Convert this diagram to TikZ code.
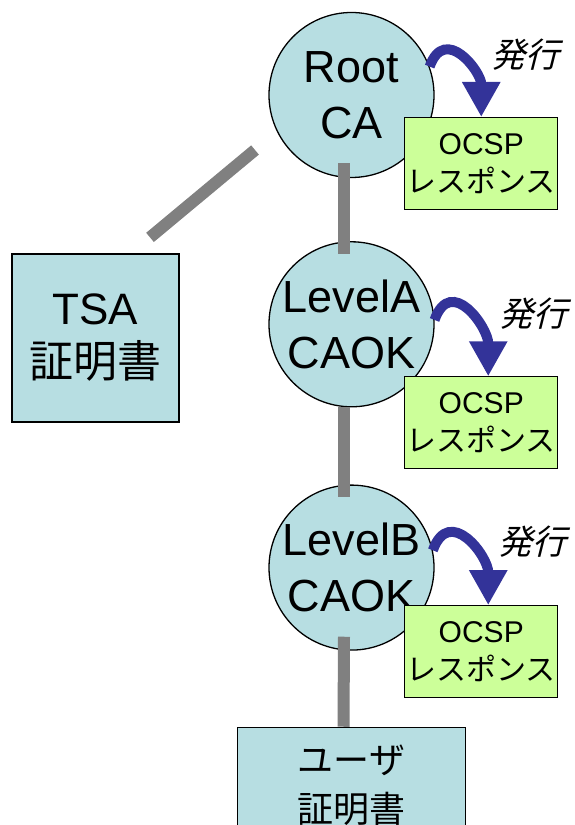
\documentclass[tikz,border=0pt]{standalone}
\usepackage{fontspec}
\setmainfont{Liberation Sans}
\newfontfamily\jp{Noto Sans CJK JP}
\newfontfamily\jpit[FakeSlant=0.25]{Noto Sans CJK JP}
\definecolor{caBlue}{RGB}{183, 222, 226}
\definecolor{ocspGreen}{RGB}{204, 255, 153}
\definecolor{issueBlue}{RGB}{51, 51, 153}
\definecolor{linkGray}{RGB}{128, 128, 128}
\usetikzlibrary{positioning, arrows.meta}

\begin{document}
\begin{tikzpicture}[
    x=1pt, y=1pt,
    canode/.style={circle, draw=black, line width=1.3pt, fill=caBlue,
                   minimum size=165pt, inner sep=-15pt, align=center,
                   font=\fontsize{45}{56}\selectfont},
    certbox/.style={rectangle, draw=black, line width=1.2pt, fill=caBlue,
                    inner sep=0pt, align=center},
    ocspbox/.style={rectangle, draw=black, line width=1.2pt, fill=ocspGreen,
                    minimum width=153pt, minimum height=92pt, inner sep=0pt,
                    align=center, font=\fontsize{30}{38}\selectfont},
    link/.style={line width=12pt, linkGray},
    issue/.style={line width=10pt, issueBlue, -{Triangle[width=36pt, length=35pt]}},
    issuelbl/.style={font=\jpit\fontsize{34}{40}\selectfont},
  ]
    \useasboundingbox (0,0) rectangle (574,825);

    \node[canode] (root) at (351.5,730) {Root\\CA};
    \node[canode, below=63pt of root] (levA) {LevelA\\CAOK};
    \node[canode, below=77pt of levA] (levB) {LevelB\\CAOK};
    \node[certbox, minimum width=228pt, minimum height=116pt,
          font=\jp\fontsize{36}{49}\selectfont, below=76pt of levB] (user) {ユーザ\\証明書};
    \node[certbox, minimum width=167pt, minimum height=168pt,
          font=\fontsize{44}{53}\selectfont] (tsa) at (95.5,487) {TSA\\{\jp 証明書}};

    \node[ocspbox, below right=22pt and -30.5pt of root.east] (ocspR) {OCSP\\{\jp レスポンス}};
    \node[ocspbox, below right=52pt and -30.5pt of levA.east] (ocspA) {OCSP\\{\jp レスポンス}};
    \node[ocspbox, below right=37.5pt and -30.5pt of levB.east] (ocspB) {OCSP\\{\jp レスポンス}};

    % certificate chain
    \draw[link] ([shift={(-7.5,15)}]root.south) -- ([shift={(-7.5,-13)}]levA.north);
    \draw[link] ([xshift=-7.5pt]levA.south) -- ([shift={(-7.5,-13)}]levB.north);
    \draw[link] ([shift={(-7.5,14)}]levB.south) -- ([xshift=-8pt]user.north);
    \draw[link] ([shift={(-96.5,-55)}]root.center) -- ([shift={(54.5,16)}]tsa.north);

    % OCSP issuing
    \draw[issue] (root.20) to[out=70, in=90, looseness=1.6] (ocspR.north);
    \draw[issue] (levA.3) to[out=70, in=90, looseness=1.6] ([xshift=7pt]ocspA.north);
    \draw[issue] (levB.12) to[out=70, in=90, looseness=1.6] ([xshift=7pt]ocspB.north);

    \node[issuelbl] (lblR) at ([shift={(44.5,62)}]ocspR.north) {発行};
    \node[issuelbl] (lblA) at ([shift={(52.5,63)}]ocspA.north) {発行};
    \node[issuelbl] (lblB) at ([shift={(51.5,63)}]ocspB.north) {発行};
  \end{tikzpicture}
\end{document}
